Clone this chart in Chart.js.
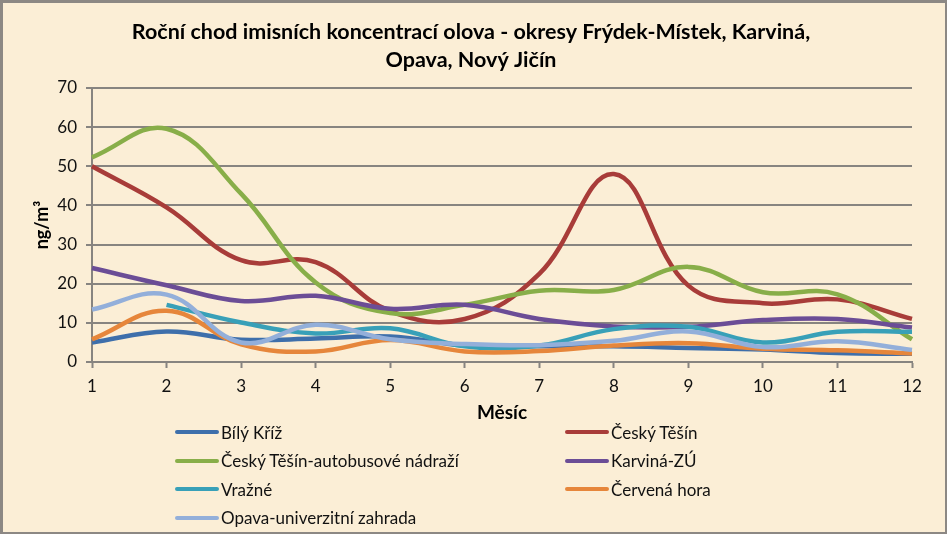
<!DOCTYPE html>
<html>
<head>
<meta charset="utf-8">
<script src="https://cdn.jsdelivr.net/npm/chart.js@4.4.0/dist/chart.umd.min.js"></script>
<style>
    html, body { margin: 0; padding: 0; }
    body {
        width: 947px;
        height: 534px;
        overflow: hidden;
        position: relative;
        background: #fbeed6;
        font-family: Lato, 'Open Sans', sans-serif;
    }
    #chart { position: absolute; left: 0; top: 0; }
    .frame {
        position: absolute;
        left: 0; top: 0;
        width: 947px; height: 534px;
        box-sizing: border-box;
        border: 2px solid #8c8884;
        border-top-width: 3px;
        border-left-width: 3px;
        pointer-events: none;
    }
    .legend {
        position: absolute;
        left: 175px;
        top: 418px;
        display: grid;
        grid-template-columns: 390px auto;
        grid-auto-rows: 28.5px;
    }
    .legend-item {
        display: flex;
        align-items: center;
        font-size: 17px;
        color: #111;
        white-space: nowrap;
    }
    .legend-line {
        display: inline-block;
        width: 44px;
        height: 4px;
        border-radius: 2px;
        margin-right: 2px;
    }
</style>
</head>
<body>
<canvas id="chart" width="947" height="534"></canvas>
<div class="legend" id="legend"></div>
<div class="frame"></div>
<script>
// Data
const months = ['1', '2', '3', '4', '5', '6', '7', '8', '9', '10', '11', '12'];

const bilyKriz     = [5.0, 7.8, 5.7, 6.0, 6.5, 4.2, 4.0, 4.0, 3.6, 3.2, 2.3, 2.1];
const ceskyTesin   = [50.0, 39.5, 26.0, 25.5, 13.0, 11.0, 22.5, 48.0, 19.5, 15.0, 16.0, 11.0];
const ctAutobusove = [52.3, 59.6, 43.0, 20.3, 12.5, 14.6, 18.2, 18.4, 24.3, 17.8, 17.3, 5.8];
const karvinaZU    = [24.0, 19.6, 15.6, 16.9, 13.6, 14.6, 11.0, 9.1, 9.0, 10.7, 11.0, 8.8];
const vrazne       = [null, 14.6, 10.1, 7.3, 8.6, 4.0, 4.2, 8.4, 9.0, 5.0, 7.7, 7.7];
const cervenaHora  = [5.8, 13.1, 4.5, 2.7, 5.6, 2.7, 2.8, 4.2, 4.8, 3.4, 3.0, 2.2];
const opavaZahrada = [13.4, 17.2, 5.0, 9.5, 5.8, 4.6, 4.3, 5.4, 7.8, 3.8, 5.3, 3.1];

const yTicks = { min: 0, max: 70, step: 10 };

const series = [
    { label: 'Bílý Kříž', data: bilyKriz, color: '#3e6fab' },
    { label: 'Český Těšín', data: ceskyTesin, color: '#a83c39' },
    { label: 'Český Těšín-autobusové nádraží', data: ctAutobusove, color: '#88ae49' },
    { label: 'Karviná-ZÚ', data: karvinaZU, color: '#6b4d96' },
    { label: 'Vražné', data: vrazne, color: '#38a0b8' },
    { label: 'Červená hora', data: cervenaHora, color: '#e6863b' },
    { label: 'Opava-univerzitní zahrada', data: opavaZahrada, color: '#93afda' }
];

const GRID = '#878480';
const FONT = 'Lato, "Open Sans", sans-serif';

const chart = new Chart(document.getElementById('chart'), {
    type: 'line',
    data: {
        labels: months,
        datasets: series.map((s, i) => ({
            label: s.label,
            data: s.data,
            borderColor: s.color,
            backgroundColor: s.color,
            borderWidth: 4.5,
            pointRadius: 0,
            tension: 0.4,
            fill: false,
            order: -i
        }))
    },
    options: {
        responsive: false,
        animation: false,
        layout: { padding: { left: 30, right: 35, top: 0, bottom: 108 } },
        plugins: {
            legend: { display: false },
            tooltip: { enabled: false },
            title: {
                display: true,
                text: ['Roční chod imisních koncentrací olova - okresy Frýdek-Místek, Karviná,', 'Opava, Nový Jičín'],
                color: '#000',
                font: { family: FONT, size: 21.5, weight: 'bold', lineHeight: 28 / 21.5 },
                padding: { top: 18, bottom: 14 }
            }
        },
        scales: {
            x: {
                type: 'category',
                offset: false,
                grid: {
                    drawOnChartArea: false,
                    drawTicks: true,
                    tickLength: 6,
                    tickColor: GRID,
                    tickWidth: 2
                },
                border: { display: true, color: GRID, width: 2 },
                ticks: { color: '#111', font: { family: FONT, size: 17 }, padding: 8, maxRotation: 0 },
                title: {
                    display: true,
                    text: 'Měsíc',
                    color: '#000',
                    font: { family: FONT, size: 19, weight: 'bold' },
                    padding: { top: 2, bottom: 2 }
                },
                afterFit: scale => { scale.height = 64; }
            },
            y: {
                min: yTicks.min,
                max: yTicks.max,
                ticks: {
                    stepSize: yTicks.step,
                    color: '#111',
                    font: { family: FONT, size: 17 },
                    padding: 9
                },
                grid: {
                    color: GRID,
                    lineWidth: 2,
                    drawTicks: true,
                    tickLength: 6,
                    tickColor: GRID
                },
                border: { display: true, color: GRID, width: 2 },
                title: {
                    display: true,
                    text: 'ng/m³',
                    color: '#000',
                    font: { family: FONT, size: 18, weight: 'bold' },
                    padding: { top: 1, bottom: 0 }
                },
                afterFit: scale => { scale.width = 62; }
            }
        }
    }
});

// Legend in two columns, built from the chart's datasets
const legendEl = document.getElementById('legend');
chart.data.datasets.forEach(ds => {
    const item = document.createElement('div');
    item.className = 'legend-item';
    const line = document.createElement('span');
    line.className = 'legend-line';
    line.style.background = ds.borderColor;
    const text = document.createElement('span');
    text.textContent = ds.label;
    item.appendChild(line);
    item.appendChild(text);
    legendEl.appendChild(item);
});
</script>
</body>
</html>
